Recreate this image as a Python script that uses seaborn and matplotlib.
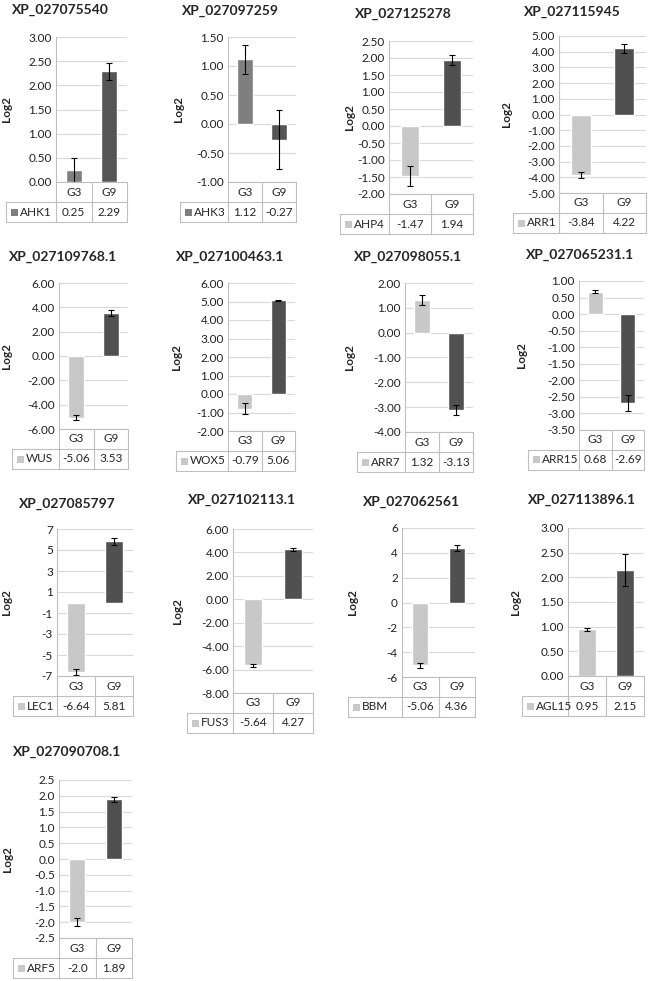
import matplotlib
matplotlib.use('Agg')
import matplotlib.pyplot as plt
import seaborn as sns
import numpy as np
from matplotlib.patches import Rectangle
from matplotlib.lines import Line2D

# --- Data ---
titles = ['XP_027075540', 'XP_027097259', 'XP_027125278', 'XP_027115945',
          'XP_027109768.1', 'XP_027100463.1', 'XP_027098055.1', 'XP_027065231.1',
          'XP_027085797', 'XP_027102113.1', 'XP_027062561', 'XP_027113896.1',
          'XP_027090708.1']
genes = ['AHK1', 'AHK3', 'AHP4', 'ARR1', 'WUS', 'WOX5', 'ARR7', 'ARR15',
         'LEC1', 'FUS3', 'BBM', 'AGL15', 'ARF5']
groups = ['G3', 'G9']
g3_values = [0.25, 1.12, -1.47, -3.84, -5.06, -0.79, 1.32, 0.68, -6.64, -5.64, -5.06, 0.95, -2.0]
g9_values = [2.29, -0.27, 1.94, 4.22, 3.53, 5.06, -3.13, -2.69, 5.81, 4.27, 4.36, 2.15, 1.89]
g3_err = [0.24, 0.25, 0.28, 0.18, 0.20, 0.28, 0.20, 0.04, 0.30, 0.10, 0.20, 0.03, 0.13]
g9_err = [0.18, 0.51, 0.14, 0.28, 0.22, 0.02, 0.20, 0.24, 0.30, 0.12, 0.25, 0.32, 0.08]
g3_labels = ['0.25', '1.12', '-1.47', '-3.84', '-5.06', '-0.79', '1.32', '0.68', '-6.64', '-5.64', '-5.06', '0.95', '-2.0']
g9_labels = ['2.29', '-0.27', '1.94', '4.22', '3.53', '5.06', '-3.13', '-2.69', '5.81', '4.27', '4.36', '2.15', '1.89']
# y axis: (min, max, step, tick format)
y_axes = [(0, 3, 0.5, '{:.2f}'), (-1, 1.5, 0.5, '{:.2f}'), (-2, 2.5, 0.5, '{:.2f}'),
          (-5, 5, 1, '{:.2f}'), (-6, 6, 2, '{:.2f}'), (-2, 6, 1, '{:.2f}'),
          (-4, 2, 1, '{:.2f}'), (-3.5, 1, 0.5, '{:.2f}'), (-7, 7, 2, '{:.0f}'),
          (-8, 6, 2, '{:.2f}'), (-6, 6, 2, '{:.0f}'), (0, 3, 0.5, '{:.2f}'),
          (-2.5, 2.5, 0.5, '{:.1f}')]

# --- Layout in figure pixels ---
# axes box (left, top, right, bottom), table left, title centre (x, y), ylabel x
layout = [
    ((56, 37, 127, 182), 6, (60, 10), 12),
    ((228, 37, 296, 182), 180, (230, 11), 184),
    ((389, 41, 473, 194), 340, (403, 14), 355),
    ((559, 36, 646, 193), 513, (572, 12), 512),
    ((59, 283, 128, 429), 12, (63, 257), 12),
    ((228, 283, 295, 431), 176, (230, 257), 182),
    ((405, 283, 473, 432), 357, (408, 257), 355),
    ((579, 281, 644, 430), 528, (580, 255), 527),
    ((57, 529, 133, 676), 13, (67, 504), 12),
    ((233, 529, 313, 693), 187, (242, 500), 183),
    ((402, 528, 475, 677), 348, (411, 502), 358),
    ((568, 528, 644, 676), 522, (582, 500), 521),
    ((59, 780, 132, 938), 13, (67, 752), 13),
]

W_PX, H_PX = 649, 981
ROW_H = 20
GRID_C = '#d9d9d9'
TABLE_C = '#bfbfbf'
FS = 8.5

sns.set_style('white')
plt.rcParams['font.family'] = ['Lato', 'DejaVu Sans']

fig = plt.figure(figsize=(W_PX / 100, H_PX / 100), dpi=100)

for i in range(len(titles)):
    (l, t, r, b), tl, (tx, ty), lx = layout[i]
    w, h = r - l, b - t
    ax = fig.add_axes([l / W_PX, 1 - b / H_PX, w / W_PX, h / H_PX])

    if i < 2:
        colors = ['#7f7f7f', '#555555']
    else:
        colors = ['#c8c8c8', '#505050']

    vals = [g3_values[i], g9_values[i]]
    sns.barplot(x=groups, y=vals, hue=groups, palette=colors, width=0.45,
                legend=False, ax=ax, saturation=1)
    ax.errorbar([0, 1], vals, yerr=[g3_err[i], g9_err[i]], fmt='none',
                ecolor='black', elinewidth=0.8, capsize=2.5, capthick=0.8)

    ymin, ymax, step, fmt = y_axes[i]
    ticks = np.arange(ymin, ymax + step / 2, step)
    ax.set_ylim(ymin, ymax)
    ax.set_xlim(-0.5, 1.5)
    ax.set_yticks(ticks)
    ax.set_yticklabels([fmt.format(v if abs(v) > 1e-9 else 0.0) for v in ticks],
                       fontsize=FS)
    ax.set_xticks([])
    ax.set_xlabel('')
    ax.tick_params(axis='y', length=0, pad=3, colors='#222222')
    ax.yaxis.grid(True, color=GRID_C, linewidth=0.8)
    ax.set_axisbelow(True)
    for s in ['top', 'right', 'bottom']:
        ax.spines[s].set_visible(False)
    ax.spines['left'].set_color(TABLE_C)
    ax.spines['left'].set_linewidth(0.8)

    ax.set_ylabel('Log2', fontsize=FS, fontweight='bold')
    ax.yaxis.set_label_coords((lx - l) / w, 0.5)

    fig.text(tx / W_PX, 1 - ty / H_PX, titles[i], ha='center', va='center',
             fontsize=10, fontweight='bold')

    # data table below the plot
    dy = ROW_H / h
    xt = (tl - l) / w
    kw = dict(transform=ax.transAxes, color=TABLE_C, linewidth=0.8, clip_on=False)
    ax.add_line(Line2D([0, 1], [0, 0], **kw))
    ax.add_line(Line2D([xt, 1], [-dy, -dy], **kw))
    ax.add_line(Line2D([xt, 1], [-2 * dy, -2 * dy], **kw))
    for xv in [0, 0.5, 1]:
        ax.add_line(Line2D([xv, xv], [0, -2 * dy], **kw))
    ax.add_line(Line2D([xt, xt], [-dy, -2 * dy], **kw))

    for k, g in enumerate(groups):
        ax.text(0.25 + 0.5 * k, -0.5 * dy, g, transform=ax.transAxes,
                ha='center', va='center', fontsize=FS, clip_on=False)
    ax.text(0.25, -1.5 * dy, g3_labels[i], transform=ax.transAxes,
            ha='center', va='center', fontsize=FS, clip_on=False)
    ax.text(0.75, -1.5 * dy, g9_labels[i], transform=ax.transAxes,
            ha='center', va='center', fontsize=FS, clip_on=False)

    key = Rectangle((xt + 5 / w, -1.5 * dy - 3.5 / h), 7 / w, 7 / h,
                    transform=ax.transAxes, facecolor=colors[0],
                    edgecolor='none', clip_on=False)
    ax.add_patch(key)
    ax.text(xt + 14 / w, -1.5 * dy, genes[i], transform=ax.transAxes,
            ha='left', va='center', fontsize=FS, clip_on=False)

fig.savefig('out.png', dpi=100, facecolor='white')
